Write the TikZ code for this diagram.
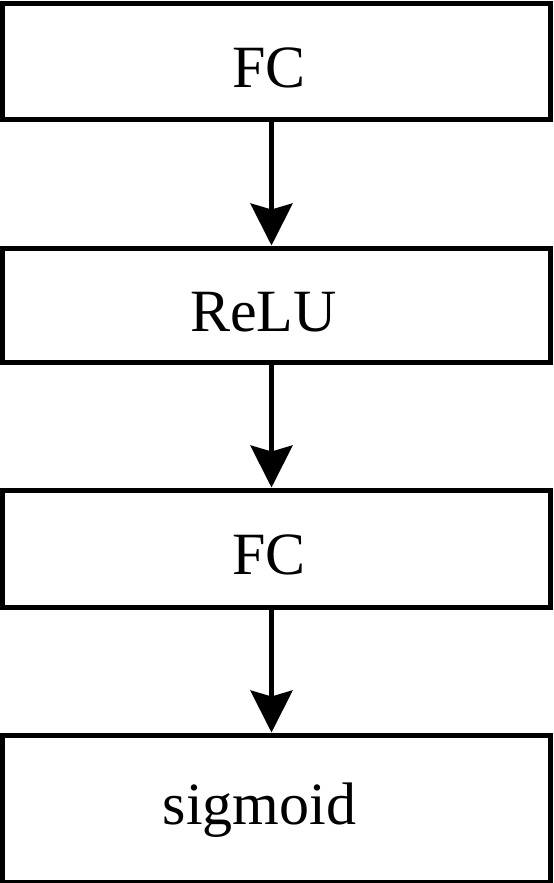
\documentclass[tikz,border=0pt]{standalone}
\usepackage{fontspec}
\setmainfont{Liberation Serif}
\usepackage{tikz}
\usetikzlibrary{arrows.meta,positioning}

\begin{document}
\begin{tikzpicture}[
  node distance=61.5pt,
  layer/.style={
    draw,line width=2.5pt,
    minimum width=274pt,minimum height=58pt,
    text height=26pt,text depth=0pt,
    inner sep=0pt,font=\fontsize{30}{36}\selectfont
  },
  nudge/.style={execute at begin node={\hspace*{#1}}},
  arr/.style={-{Stealth[length=21pt,width=21pt,inset=3pt]},line width=2.3pt}
]
  \useasboundingbox (-138.25pt,31pt) rectangle (138.25pt,-410.5pt);
  \node[layer,nudge=-7.5pt] (fc1) at (0,0) {FC};
  \node[layer,nudge=-13pt,minimum height=57pt,below=of fc1] (relu) {ReLU};
  \node[layer,nudge=-7.5pt,minimum height=58.5pt,below=of relu] (fc2) {FC};
  \node[layer,nudge=-17pt,minimum height=73.5pt,text height=21.5pt,text depth=6pt,
        below=of fc2] (sig) {sigmoid};
  \draw[arr] ([xshift=-2.5pt]fc1.south) -- ([xshift=-2.5pt]relu.north);
  \draw[arr] ([xshift=-2.5pt]relu.south) -- ([xshift=-2.5pt]fc2.north);
  \draw[arr] ([xshift=-2.5pt]fc2.south) -- ([xshift=-2.5pt]sig.north);
\end{tikzpicture}
\end{document}
